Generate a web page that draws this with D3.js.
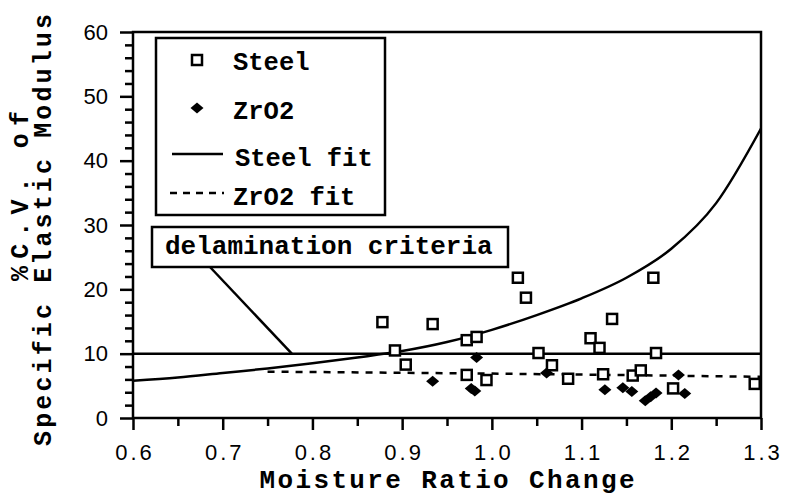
<!DOCTYPE html>
<html lang="en">
<head>
<meta charset="utf-8">
<title>Moisture Ratio Change</title>
<style>
    body {
        margin: 0;
        background: #fff;
    }

    .mono {
        font-family: "Liberation Mono", "DejaVu Sans Mono", monospace;
        font-weight: bold;
        fill: #000;
    }

    .tick text {
        font-family: "Liberation Sans", Arial, sans-serif;
        font-size: 22px;
        fill: #000;
    }

    .tick line {
        stroke: #000;
        stroke-width: 2.5;
    }
</style>
</head>
<body>
<div id="chart"></div>
<script src="https://d3js.org/d3.v7.min.js"></script>
<script>
    // Steel samples (open squares)
    var steelX = [0.878, 0.892, 0.904, 0.934, 0.972, 0.983, 0.972, 0.994, 1.029, 1.038, 1.052, 1.067,
                  1.085, 1.110, 1.120, 1.134, 1.124, 1.157, 1.166, 1.180, 1.183, 1.202, 1.293];
    var steelY = [14.9, 10.5, 8.3, 14.6, 12.1, 12.6, 6.7, 5.9, 21.8, 18.7, 10.1, 8.2,
                  6.1, 12.4, 10.9, 15.4, 6.8, 6.6, 7.4, 21.8, 10.1, 4.6, 5.3];

    // ZrO2 samples (filled diamonds)
    var zrX = [0.934, 0.983, 0.977, 0.981, 1.061, 1.126, 1.146, 1.156, 1.171, 1.177, 1.183, 1.208, 1.215];
    var zrY = [5.7, 9.4, 4.6, 4.2, 7.0, 4.4, 4.7, 4.1, 2.7, 3.3, 3.9, 6.7, 3.8];

    // fitted curves
    var steelFitX = [0.60, 0.65, 0.70, 0.75, 0.80, 0.85, 0.90, 0.95, 1.00, 1.05, 1.10, 1.15, 1.20, 1.25, 1.30];
    var steelFitY = [5.8, 6.3, 7.0, 7.7, 8.5, 9.4, 10.4, 11.8, 13.7, 16.0, 18.6, 21.8, 26.3, 33.4, 45.0];
    var zrFitX = [0.75, 1.00, 1.30];
    var zrFitY = [7.2, 6.9, 6.4];

    var delamination = 10;
    var leaderX = 0.777;

    var xTicks = [0.6, 0.7, 0.8, 0.9, 1.0, 1.1, 1.2, 1.3];
    var xMinor = [0.65, 0.75, 0.85, 0.95, 1.05, 1.15, 1.25];
    var yTicks = [0, 10, 20, 30, 40, 50, 60];
    var yMinor = [2, 4, 6, 8, 12, 14, 16, 18, 22, 24, 26, 28, 32, 34, 36, 38, 42, 44, 46, 48, 52, 54, 56, 58];

    var width = 785, height = 496;

    var x = d3.scaleLinear().domain([0.6, 1.3]).range([133, 761]);
    var y = d3.scaleLinear().domain([0, 60]).range([418, 32]);

    var svg = d3.select("#chart").append("svg")
        .attr("width", width)
        .attr("height", height);

    // minor ticks first so major ones sit on top
    svg.append("g")
        .attr("transform", "translate(0," + y(0) + ")")
        .call(d3.axisBottom(x).tickValues(xMinor).tickSize(8).tickFormat(""))
        .call(function(g) { g.select(".domain").remove(); });

    svg.append("g")
        .attr("transform", "translate(" + x(0.6) + ",0)")
        .call(d3.axisLeft(y).tickValues(yMinor).tickSize(8).tickFormat(""))
        .call(function(g) { g.select(".domain").remove(); });

    var xAxis = svg.append("g")
        .attr("transform", "translate(0," + y(0) + ")")
        .call(d3.axisBottom(x).tickValues(xTicks).tickSize(12).tickPadding(14)
            .tickFormat(d3.format(".1f")));
    xAxis.select(".domain").remove();
    xAxis.selectAll("text").attr("letter-spacing", "3px").attr("dx", "1.5");

    var yAxis = svg.append("g")
        .attr("transform", "translate(" + x(0.6) + ",0)")
        .call(d3.axisLeft(y).tickValues(yTicks).tickSize(13).tickPadding(12));
    yAxis.select(".domain").remove();

    // plot frame
    svg.append("rect")
        .attr("x", x(0.6))
        .attr("y", y(60))
        .attr("width", x(1.3) - x(0.6))
        .attr("height", y(0) - y(60))
        .attr("fill", "none")
        .attr("stroke", "#000")
        .attr("stroke-width", 2.5);

    // delamination criteria line
    svg.append("line")
        .attr("x1", x(0.6)).attr("x2", x(1.3))
        .attr("y1", y(delamination)).attr("y2", y(delamination))
        .attr("stroke", "#000")
        .attr("stroke-width", 2.5);

    var line = d3.line()
        .x(function(d) { return x(d[0]); })
        .y(function(d) { return y(d[1]); })
        .curve(d3.curveMonotoneX);

    svg.append("path")
        .datum(d3.zip(steelFitX, steelFitY))
        .attr("d", line)
        .attr("fill", "none")
        .attr("stroke", "#000")
        .attr("stroke-width", 2.5);

    svg.append("path")
        .datum(d3.zip(zrFitX, zrFitY))
        .attr("d", line)
        .attr("fill", "none")
        .attr("stroke", "#000")
        .attr("stroke-width", 2.5)
        .attr("stroke-dasharray", "7,7");

    var diamond = "M0,-5.5L6.5,0L0,5.5L-6.5,0Z";

    svg.selectAll(".zr")
        .data(d3.zip(zrX, zrY))
        .enter().append("path")
        .attr("class", "zr")
        .attr("d", diamond)
        .attr("transform", function(d) { return "translate(" + x(d[0]) + "," + y(d[1]) + ")"; })
        .attr("fill", "#000");

    svg.selectAll(".steel")
        .data(d3.zip(steelX, steelY))
        .enter().append("rect")
        .attr("class", "steel")
        .attr("x", function(d) { return x(d[0]) - 5; })
        .attr("y", function(d) { return y(d[1]) - 5; })
        .attr("width", 10)
        .attr("height", 10)
        .attr("fill", "#fff")
        .attr("stroke", "#000")
        .attr("stroke-width", 2.5);

    // legend
    var legend = svg.append("g");
    legend.append("rect")
        .attr("x", 156).attr("y", 38)
        .attr("width", 229).attr("height", 177)
        .attr("fill", "#fff")
        .attr("stroke", "#000")
        .attr("stroke-width", 2.5);

    legend.append("rect")
        .attr("x", 192).attr("y", 55)
        .attr("width", 10).attr("height", 10)
        .attr("fill", "#fff").attr("stroke", "#000").attr("stroke-width", 2.5);
    legend.append("path")
        .attr("d", diamond)
        .attr("transform", "translate(197,108)");
    legend.append("line")
        .attr("x1", 172).attr("x2", 223).attr("y1", 154).attr("y2", 154)
        .attr("stroke", "#000").attr("stroke-width", 2.5);
    legend.append("line")
        .attr("x1", 170).attr("x2", 224).attr("y1", 193).attr("y2", 193)
        .attr("stroke", "#000").attr("stroke-width", 2.5)
        .attr("stroke-dasharray", "7,6");

    var legendText = [["Steel", 233, 70], ["ZrO2", 233, 119], ["Steel fit", 235, 166], ["ZrO2 fit", 233, 205]];
    legend.selectAll("text")
        .data(legendText)
        .enter().append("text")
        .attr("class", "mono")
        .attr("x", function(d) { return d[1]; })
        .attr("y", function(d) { return d[2]; })
        .style("font-size", "25.5px")
        .text(function(d) { return d[0]; });

    // delamination annotation
    svg.append("line")
        .attr("x1", 210).attr("y1", 267)
        .attr("x2", x(leaderX)).attr("y2", y(delamination))
        .attr("stroke", "#000").attr("stroke-width", 2.5);

    svg.append("rect")
        .attr("x", 152).attr("y", 227)
        .attr("width", 356).attr("height", 40)
        .attr("fill", "#fff")
        .attr("stroke", "#000")
        .attr("stroke-width", 2.5);

    svg.append("text")
        .attr("class", "mono")
        .attr("x", 165).attr("y", 254)
        .style("font-size", "26px")
        .text("delamination criteria");

    // axis titles
    svg.append("text")
        .attr("class", "mono")
        .attr("x", (x(0.6) + x(1.3)) / 2)
        .attr("y", 488)
        .attr("text-anchor", "middle")
        .attr("textLength", 375)
        .attr("lengthAdjust", "spacing")
        .style("font-size", "26px")
        .text("Moisture Ratio Change");

    svg.append("text")
        .attr("class", "mono")
        .attr("transform", "translate(28,196) rotate(-90)")
        .attr("text-anchor", "middle")
        .attr("textLength", 170)
        .attr("lengthAdjust", "spacing")
        .style("font-size", "25px")
        .text("%C.V. of");

    svg.append("text")
        .attr("class", "mono")
        .attr("transform", "translate(51,230) rotate(-90)")
        .attr("text-anchor", "middle")
        .attr("textLength", 432)
        .attr("lengthAdjust", "spacing")
        .style("font-size", "25px")
        .text("Specific Elastic Modulus");
</script>
</body>
</html>
